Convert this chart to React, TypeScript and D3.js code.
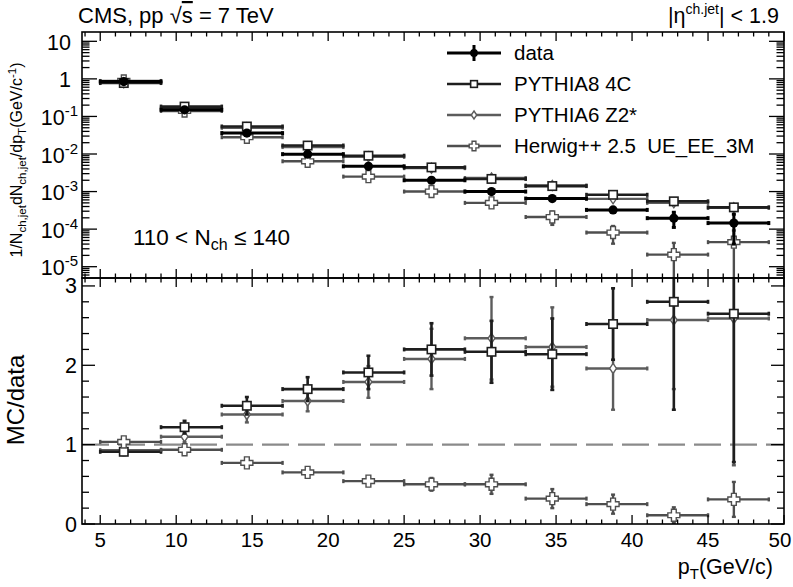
import React from 'react';
import * as d3 from 'd3';

// ---- data ----
const binLow = [5, 9, 13, 17, 21, 25, 29, 33, 37, 41, 45];
const binHigh = [9, 13, 17, 21, 25, 29, 33, 37, 41, 45, 49];
const binMean = [6.55, 10.55, 14.65, 18.65, 22.65, 26.8, 30.75, 34.75, 38.75, 42.75, 46.7];

const dataVal = [0.85, 0.15, 0.036, 0.0099, 0.0047, 0.002, 0.001, 0.00065, 0.000325, 0.000196, 0.000145];
const dataErr = [0.02, 0.004, 0.001, 0.0003, 0.00015, 0.00007, 0.00004, 0.00003, 0.00002, 0.000085, 0.000105];

const p8Val = [0.775, 0.183, 0.054, 0.0168, 0.009, 0.0044, 0.00217, 0.0014, 0.00082, 0.00055, 0.00038];
const p8Err = [0.01, 0.003, 0.001, 0.0003, 0.0002, 0.0001, 0.00006, 0.00004, 0.00003, 0.00003, 0.00003];
const p6Val = [0.79, 0.165, 0.05, 0.0153, 0.0084, 0.0042, 0.0023, 0.00145, 0.00064, 0.0005, 0.00037];
const p6Err = [0.01, 0.003, 0.001, 0.0003, 0.0002, 0.0001, 0.00006, 0.00004, 0.00003, 0.00003, 0.00003];
const hwVal = [0.88, 0.14, 0.028, 0.0064, 0.0025, 0.001, 0.0005, 0.00021, 0.000081, 0.000021, 0.000045];
const hwErr = [0.025, 0.006, 0.0015, 0.0004, 0.00022, 0.00016, 0.00013, 0.00008, 0.00004, 0.000022, 0.000047];

const ratioP8 = [0.91, 1.22, 1.49, 1.7, 1.91, 2.2, 2.17, 2.14, 2.52, 2.8, 2.65];
const ratioP8Err = [0.04, 0.08, 0.11, 0.15, 0.21, 0.33, 0.39, 0.45, 0.45, 1.36, 1.87];
const ratioP6 = [0.93, 1.1, 1.38, 1.55, 1.79, 2.08, 2.34, 2.23, 1.96, 2.57, 2.59];
const ratioP6Err = [0.04, 0.07, 0.1, 0.13, 0.2, 0.38, 0.52, 0.5, 0.52, 0.87, 1.85];
const ratioHw = [1.035, 0.935, 0.77, 0.65, 0.54, 0.5, 0.5, 0.32, 0.25, 0.11, 0.31];
const ratioHwErr = [0.03, 0.04, 0.04, 0.04, 0.05, 0.08, 0.12, 0.12, 0.12, 0.1, 0.22];

const xTickLabels = [5, 10, 15, 20, 25, 30, 35, 40, 45, 50];
const logExponents = [1, 0, -1, -2, -3, -4, -5];
const ratioTickLabels = [0, 1, 2, 3];
const legendLabels = ['data', 'PYTHIA8 4C', 'PYTHIA6 Z2*', 'Herwig++ 2.5\u00A0\u00A0UE_EE_3M'];

// ---- layout ----
const W = 793, H = 587;
const L = 82, R = 784, T = 32, M = 278, B = 524;
const FONT = '"Liberation Sans", Arial, Helvetica, sans-serif';

const x = d3.scaleLinear().domain([3.8, 50]).range([L, R]);
const yTop = d3.scaleLog().domain([5e-6, 17.7]).range([M, T]);
const yBot = d3.scaleLinear().domain([0, 3.1]).range([B, M]);

const C_DATA = '#000';
const C_P8 = '#1e1e1e';
const C_P6 = '#5c5c5c';
const C_HW = '#4e4e4e';

type Marker = 'circle' | 'square' | 'diamond' | 'cross';

function MarkerShape({ kind, cx, cy, color, scale = 1 }: { kind: Marker; cx: number; cy: number; color: string; scale?: number }) {
  if (kind === 'circle') return <circle cx={cx} cy={cy} r={4.6 * scale} fill={color} />;
  if (kind === 'square') {
    const s = 4.2 * scale;
    return <rect x={cx - s} y={cy - s} width={2 * s} height={2 * s} fill="#fff" stroke={color} strokeWidth={1.6} />;
  }
  if (kind === 'diamond') {
    const w = 3.4 * scale, h = 5 * scale;
    return <path d={`M${cx},${cy - h}L${cx + w},${cy}L${cx},${cy + h}L${cx - w},${cy}Z`} fill="#fff" stroke={color} strokeWidth={1.4} />;
  }
  const a = 2.4 * scale, l = 6 * scale;
  const p = `M${cx - a},${cy - l}H${cx + a}V${cy - a}H${cx + l}V${cy + a}H${cx + a}V${cy + l}H${cx - a}V${cy + a}H${cx - l}V${cy - a}H${cx - a}Z`;
  return <path d={p} fill="#fff" stroke={color} strokeWidth={1.4} />;
}

function Series({ vals, errs, y, color, width, marker, clip, minV }: {
  vals: number[]; errs: number[]; y: (v: number) => number; color: string; width: number; marker: Marker; clip: string; minV: number;
}) {
  return (
    <g clipPath={`url(#${clip})`}>
      {vals.map((v, i) => {
        const cx = x(binMean[i]);
        const cy = y(v);
        const x0 = x(binLow[i]);
        const x1 = x(binHigh[i]);
        const lo = Math.max(v - errs[i], minV);
        const hi = v + errs[i];
        const yl = y(lo);
        const yh = y(hi);
        return (
          <g key={i}>
            <line x1={x0} x2={x1} y1={cy} y2={cy} stroke={color} strokeWidth={width} />
            <line x1={x0} x2={x0} y1={cy - 2} y2={cy + 2} stroke={color} strokeWidth={width} />
            <line x1={x1} x2={x1} y1={cy - 2} y2={cy + 2} stroke={color} strokeWidth={width} />
            <line x1={cx} x2={cx} y1={yl} y2={yh} stroke={color} strokeWidth={width} />
            <line x1={cx - 2} x2={cx + 2} y1={yl} y2={yl} stroke={color} strokeWidth={width} />
            <line x1={cx - 2} x2={cx + 2} y1={yh} y2={yh} stroke={color} strokeWidth={width} />
            <MarkerShape kind={marker} cx={cx} cy={cy} color={color} />
          </g>
        );
      })}
    </g>
  );
}

export default function App() {
  const xMinor = d3.range(4, 51, 1);
  const logTicks: { v: number; major: boolean }[] = [];
  for (let e = -6; e <= 1; e++) {
    for (let k = 1; k <= 9; k++) {
      const v = k * Math.pow(10, e);
      if (v >= 5e-6 && v <= 17.7) logTicks.push({ v, major: k === 1 });
    }
  }
  const ratioMinor = d3.range(0, 3.01, 0.2);

  const tick = (key: string, x1: number, y1: number, x2: number, y2: number) => (
    <line key={key} x1={x1} y1={y1} x2={x2} y2={y2} stroke="#000" strokeWidth={1.3} />
  );

  const legendY = [53, 84, 115, 146];
  const legendColors = [C_DATA, C_P8, C_P6, C_HW];
  const legendMarkers: Marker[] = ['circle', 'square', 'diamond', 'cross'];
  const legendWidth = [3, 2.6, 2.4, 2.4];

  return (
    <svg width={W} height={H} style={{ position: 'absolute', left: 0, top: 0, background: '#fff' }} fontFamily={FONT}>
      <defs>
        <clipPath id="clipTop"><rect x={L} y={T} width={R - L} height={M - T} /></clipPath>
        <clipPath id="clipBot"><rect x={L} y={M} width={R - L} height={B - M} /></clipPath>
      </defs>
      <rect x={0} y={0} width={W} height={H} fill="#fff" />

      {/* reference dashed line */}
      <line x1={L} x2={R} y1={yBot(1)} y2={yBot(1)} stroke="#8a8a8a" strokeWidth={2.2} strokeDasharray="27 9" />

      {/* top panel series */}
      <Series vals={hwVal} errs={hwErr} y={yTop} color={C_HW} width={2.4} marker="cross" clip="clipTop" minV={1e-7} />
      <Series vals={p6Val} errs={p6Err} y={yTop} color={C_P6} width={2.4} marker="diamond" clip="clipTop" minV={1e-7} />
      <Series vals={p8Val} errs={p8Err} y={yTop} color={C_P8} width={2.6} marker="square" clip="clipTop" minV={1e-7} />
      <Series vals={dataVal} errs={dataErr} y={yTop} color={C_DATA} width={3} marker="circle" clip="clipTop" minV={1e-7} />

      {/* bottom panel series */}
      <Series vals={ratioP6} errs={ratioP6Err} y={yBot} color={C_P6} width={2.4} marker="diamond" clip="clipBot" minV={-1} />
      <Series vals={ratioP8} errs={ratioP8Err} y={yBot} color={C_P8} width={2.6} marker="square" clip="clipBot" minV={-1} />
      <Series vals={ratioHw} errs={ratioHwErr} y={yBot} color={C_HW} width={2.4} marker="cross" clip="clipBot" minV={-1} />

      {/* frames */}
      <rect x={L} y={T} width={R - L} height={M - T} fill="none" stroke="#000" strokeWidth={1.6} />
      <rect x={L} y={M} width={R - L} height={B - M} fill="none" stroke="#000" strokeWidth={1.6} />

      {/* x ticks */}
      {xMinor.map((v) => {
        const major = v % 5 === 0;
        const len = major ? 9 : 4.5;
        const px = x(v);
        return (
          <g key={'xt' + v}>
            {tick('a', px, T, px, T + len)}
            {tick('b', px, M, px, M - len)}
            {tick('c', px, M, px, M + len)}
            {tick('d', px, B, px, B - len)}
          </g>
        );
      })}

      {/* top y ticks */}
      {logTicks.map((t, i) => {
        const py = yTop(t.v);
        const len = t.major ? 15 : 7.5;
        return (
          <g key={'lt' + i}>
            {tick('l', L, py, L + len, py)}
            {tick('r', R, py, R - len, py)}
          </g>
        );
      })}

      {/* bottom y ticks */}
      {ratioMinor.map((v, i) => {
        const major = Math.abs(v - Math.round(v)) < 1e-6;
        const py = yBot(v);
        const len = major ? 13 : 7;
        return (
          <g key={'rt' + i}>
            {tick('l', L, py, L + len, py)}
            {tick('r', R, py, R - len, py)}
          </g>
        );
      })}

      {/* x tick labels */}
      {xTickLabels.map((v) => (
        <text key={'xl' + v} x={v === 50 ? x(v) - 4 : x(v)} y={547} fontSize={20.5} textAnchor="middle">{v}</text>
      ))}

      {/* log tick labels */}
      {logExponents.map((e) => {
        const py = yTop(Math.pow(10, e)) + 8.5;
        if (e === 1) return <text key={'ll' + e} x={71} y={py} fontSize={21.5} textAnchor="end">10</text>;
        if (e === 0) return <text key={'ll' + e} x={71} y={py} fontSize={21.5} textAnchor="end">1</text>;
        return (
          <text key={'ll' + e} x={78} y={py} fontSize={21.5} textAnchor="end">
            10<tspan fontSize={15} dy={-9}>{String(e)}</tspan>
          </text>
        );
      })}

      {/* ratio tick labels */}
      {ratioTickLabels.map((v) => (
        <text key={'rl' + v} x={77} y={yBot(v) + 7.5} fontSize={21.5} textAnchor="end">{v}</text>
      ))}

      {/* titles */}
      <text x={78} y={23} fontSize={22}>
        CMS, pp <tspan>√</tspan><tspan style={{ textDecoration: 'overline' }}>s</tspan> = 7 TeV
      </text>
      <text x={779} y={23} fontSize={21.5} textAnchor="end">
        |η<tspan fontSize={14} dy={-9}>ch.jet</tspan><tspan dy={9}>| &lt; 1.9</tspan>
      </text>

      {/* y axis label top */}
      <text transform={`translate(22,${160}) rotate(-90)`} fontSize={16} textAnchor="middle">
        1/N<tspan fontSize={11.5} dy={4}>ch,jet</tspan><tspan dy={-4}>dN</tspan><tspan fontSize={11.5} dy={4}>ch,jet</tspan><tspan dy={-4}>/dp</tspan><tspan fontSize={11.5} dy={4}>T</tspan><tspan dy={-4}>(GeV/c</tspan><tspan fontSize={11.5} dy={-6}>-1</tspan><tspan dy={6}>)</tspan>
      </text>

      {/* y axis label bottom */}
      <text transform={`translate(24,${400}) rotate(-90)`} fontSize={24} textAnchor="middle">MC/data</text>

      {/* annotation */}
      <text x={133} y={245} fontSize={22.5}>
        110 &lt; N<tspan fontSize={16} dy={5}>ch</tspan><tspan dy={-5}> ≤ 140</tspan>
      </text>

      {/* x label */}
      <text x={773} y={574} fontSize={21.5} textAnchor="end">
        p<tspan fontSize={15} dy={5}>T</tspan><tspan dy={-5}>(GeV/c)</tspan>
      </text>

      {/* legend */}
      {legendLabels.map((lab, i) => {
        const ly = legendY[i];
        const col = legendColors[i];
        return (
          <g key={'lg' + i}>
            <line x1={447} x2={501} y1={ly} y2={ly} stroke={col} strokeWidth={legendWidth[i]} />
            {i === 0 && <line x1={474} x2={474} y1={ly - 8} y2={ly + 8} stroke={col} strokeWidth={3} />}
            {i === 3 && <line x1={474} x2={474} y1={ly - 5} y2={ly + 5} stroke={col} strokeWidth={2} />}
            <MarkerShape kind={legendMarkers[i]} cx={474} cy={ly} color={col} scale={i === 0 ? 0.85 : 0.8} />
            <text x={514} y={ly + 7} fontSize={20.5}>{lab}</text>
          </g>
        );
      })}
    </svg>
  );
}
